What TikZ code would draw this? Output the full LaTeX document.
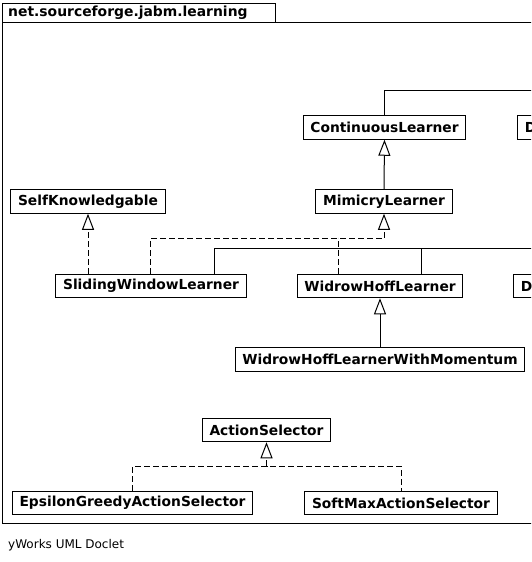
\documentclass[tikz,border=0pt]{standalone}
\usepackage{fontspec}
\setmainfont{DejaVu Sans}
\usetikzlibrary{arrows.meta}
\begin{document}
\begin{tikzpicture}[x=1pt,y=-1pt,
  cls/.style={draw,line width=1pt,fill=white,font=\fontsize{13.8}{15}\selectfont\bfseries,
    minimum height=23.5pt,inner xsep=7.3pt,inner ysep=0pt},
  clip cls/.style={cls,anchor=west,text width=30pt,align=left},
  conn/.style={line width=1pt},
  impl/.style={conn,dash pattern=on 6pt off 3pt},
  gen/.style={-{Triangle[open,length=16pt,width=12pt,line width=1pt]}}]
\useasboundingbox (0,0) rectangle (531,562);
\begin{scope}
\clip (0,0) rectangle (531,562);
% package frame
\node[draw,line width=1pt,anchor=north west,minimum width=273pt,minimum height=19pt,
  inner sep=0pt] (tab) at (2,3) {};
\node[anchor=west,font=\fontsize{13.9}{15}\selectfont\bfseries,inner sep=0pt] (title) at (8,12.8) {net.sourceforge.jabm.learning};
\node[draw,line width=1pt,anchor=north west,minimum width=560pt,minimum height=501pt,
  inner sep=0pt] (pkg) at (2,22) {};
% classes
\node[cls] (CL) at (384.5,127.5) {ContinuousLearner};
\node[clip cls] (D1) at (517,127.5) {D};
\node[cls] (ML) at (384,201.5) {MimicryLearner};
\node[cls] (SK) at (88,201.5) {SelfKnowledgable};
\node[cls] (SWL) at (151,286) {SlidingWindowLearner};
\node[cls] (WHL) at (380,286) {WidrowHoffLearner};
\node[clip cls] (D2) at (513,286) {D};
\node[cls] (WHLM) at (380,359.5) {WidrowHoffLearnerWithMomentum};
\node[cls] (AS) at (266.5,430) {ActionSelector};
\node[cls] (EG) at (132.5,503) {EpsilonGreedyActionSelector};
\node[cls] (SM) at (401,503) {SoftMaxActionSelector};
\coordinate (out1) at (545,90);
\coordinate (out2) at (545,248);
% connectors
\draw[conn] (CL.north) |- (out1);
\draw[conn,gen] (ML.north) -- (CL.south);
\draw[impl,gen] ([xshift=-1pt]SWL.north) |- ([yshift=-25pt]ML.south) -- (ML.south);
\draw[impl] ([xshift=-42pt]WHL.north) -- ++(0,-36);
\draw[impl,gen] (SK.south |- SWL.north) -- (SK.south);
\draw[conn] ([xshift=63pt]SWL.north) |- (out2);
\draw[conn] ([xshift=41pt]WHL.north) -- ++(0,-26);
\draw[conn,gen] (WHLM.north) -- (WHL.south);
\draw[impl] (EG.north) |- ([yshift=-24pt]AS.south) -| (SM.north);
\draw[impl,gen] ([yshift=-24pt]AS.south) -- (AS.south);
\end{scope}
\node[anchor=west,font=\fontsize{12}{14}\selectfont,inner sep=0pt] (foot) at (8,545) {yWorks UML Doclet};
\end{tikzpicture}
\end{document}
